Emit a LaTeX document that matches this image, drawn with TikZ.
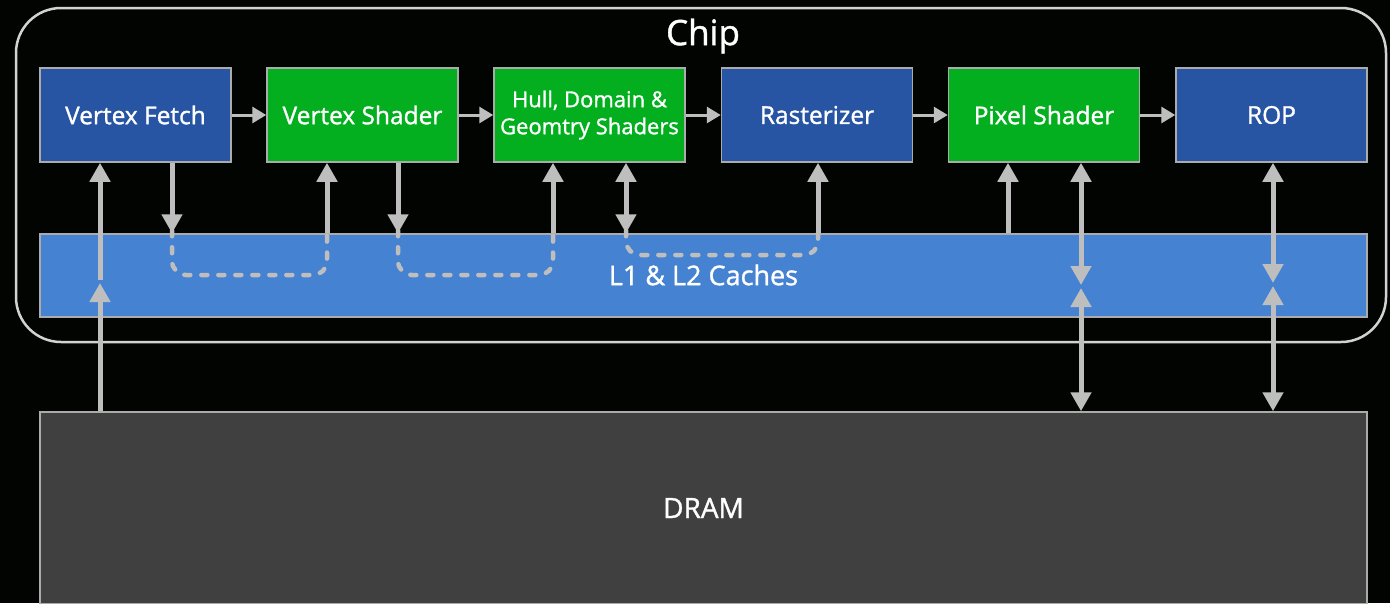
\documentclass[tikz,border=0pt]{standalone}
\usepackage{fontspec}
\setmainfont{Open Sans}[FakeBold=1.2]
\usetikzlibrary{arrows.meta,calc}
\definecolor{bgc}{HTML}{020402}
\definecolor{blu}{HTML}{2855A3}
\definecolor{grn}{HTML}{03AF1F}
\definecolor{cachec}{HTML}{4682D2}
\definecolor{dramc}{HTML}{404040}
\definecolor{edgec}{HTML}{ABABAB}
\definecolor{arrc}{HTML}{BEBEBE}
\definecolor{chipc}{HTML}{D2D2D2}
\begin{document}
\begin{tikzpicture}[x=1pt,y=-1pt,
  stagebox/.style={draw=edgec, line width=1.5pt, minimum width=191pt, minimum height=94pt, inner sep=0pt, text=white, font=\fontsize{24.5}{30}\selectfont, align=center},
  harrow/.style={draw=arrc, line width=3pt, -{Triangle[length=14pt,width=16pt]}},
  varrow/.style={draw=arrc, line width=5pt, -{Triangle[length=19pt,width=20pt]}},
  dvarrow/.style={draw=arrc, line width=5pt, {Triangle[length=19pt,width=20pt]}-{Triangle[length=19pt,width=20pt]}},
  dashline/.style={draw=arrc, line width=4.5pt, line cap=round, dash pattern=on 6pt off 11pt, rounded corners=14pt}]
\fill[bgc] (0,0) rectangle (1390,603);
\useasboundingbox (0,0) rectangle (1390,603);
% chip outline
\node[draw=chipc, line width=2.5pt, rounded corners=45pt, minimum width=1370pt, minimum height=334pt, inner sep=0pt] (chip) at (701,175) {};
\node[text=white, font=\fontsize{35}{40}\selectfont] (chiplabel) at (703,36) {Chip};
% stages
\node[stagebox, fill=blu] (vf)  at (135.5,115) {Vertex Fetch};
\node[stagebox, fill=grn] (vs)  at (362.5,115) {Vertex Shader};
\node[stagebox, fill=grn, font=\fontsize{22}{27}\selectfont] (hds) at (589.5,115) {Hull, Domain \&\\Geomtry Shaders};
\node[stagebox, fill=blu] (ras) at (817,115) {Rasterizer};
\node[stagebox, fill=grn] (ps)  at (1044,115) {Pixel Shader};
\node[stagebox, fill=blu] (rop) at (1271.5,115) {ROP};
% caches and dram
\node[draw=edgec, line width=1.5pt, fill=cachec, minimum width=1327pt, minimum height=83pt, inner sep=0pt] (cache) at (703.5,275.5) {};
\node[text=white, font=\fontsize{27}{32}\selectfont] (cachelabel) at (703.5,275) {L1 \& L2 Caches};
\node[draw=edgec, line width=1.5pt, fill=dramc, minimum width=1327pt, minimum height=192pt, inner sep=0pt, text=white, font=\fontsize{28}{32}\selectfont] (dram) at (703.5,508) {DRAM};
% horizontal arrows
\draw[harrow] (vf.east) -- (vs.west);
\draw[harrow] (vs.east) -- (hds.west);
\draw[harrow] (hds.east) -- (ras.west);
\draw[harrow] (ras.east) -- (ps.west);
\draw[harrow] (ps.east) -- (rop.west);
% column coordinates
\coordinate (c0) at (100,0);
\coordinate (c1) at (172,0);
\coordinate (c2) at (327,0);
\coordinate (c3) at (398,0);
\coordinate (c4) at (553,0);
\coordinate (c5) at (626,0);
\coordinate (c6) at (818,0);
\coordinate (c7) at (1008,0);
\coordinate (c8) at (1081,0);
\coordinate (c9) at (1273,0);
\coordinate (m0) at (100,283);
\coordinate (m0b) at (100,280);
\coordinate (m8) at (1081,285);
\coordinate (m8b) at (1081,288);
\coordinate (m9) at (1273,283);
\coordinate (m9b) at (1273,286);
\coordinate (h1) at (250,275);
\coordinate (h2) at (475,275);
\coordinate (h3) at (720,255);
% vertex fetch input
\draw[varrow] (dram.north -| c0) -- (m0);
\draw[varrow] (m0b) -- (vf.south -| c0);
% vertex fetch -> cache -> vertex shader
\draw[varrow] (vf.south -| c1) -- (cache.north -| c1);
\draw[dashline] ([yshift=3pt]cache.north -| c1) |- (h1) -| ([yshift=3pt]cache.north -| c2);
\draw[varrow] (cache.north -| c2) -- (vs.south -| c2);
% vertex shader -> cache -> hds
\draw[varrow] (vs.south -| c3) -- (cache.north -| c3);
\draw[dashline] ([yshift=3pt]cache.north -| c3) |- (h2) -| ([yshift=3pt]cache.north -| c4);
\draw[varrow] (cache.north -| c4) -- (hds.south -| c4);
% hds <-> cache -> rasterizer
\draw[dvarrow] (hds.south -| c5) -- (cache.north -| c5);
\draw[dashline] ([yshift=3pt]cache.north -| c5) |- (h3) -| ([yshift=3pt]cache.north -| c6);
\draw[varrow] (cache.north -| c6) -- (ras.south -| c6);
% pixel shader
\draw[varrow] (cache.north -| c7) -- (ps.south -| c7);
\draw[dvarrow] (ps.south -| c8) -- (m8);
\draw[dvarrow] (m8b) -- (dram.north -| c8);
% rop
\draw[dvarrow] (rop.south -| c9) -- (m9);
\draw[dvarrow] (m9b) -- (dram.north -| c9);
\end{tikzpicture}
\end{document}
